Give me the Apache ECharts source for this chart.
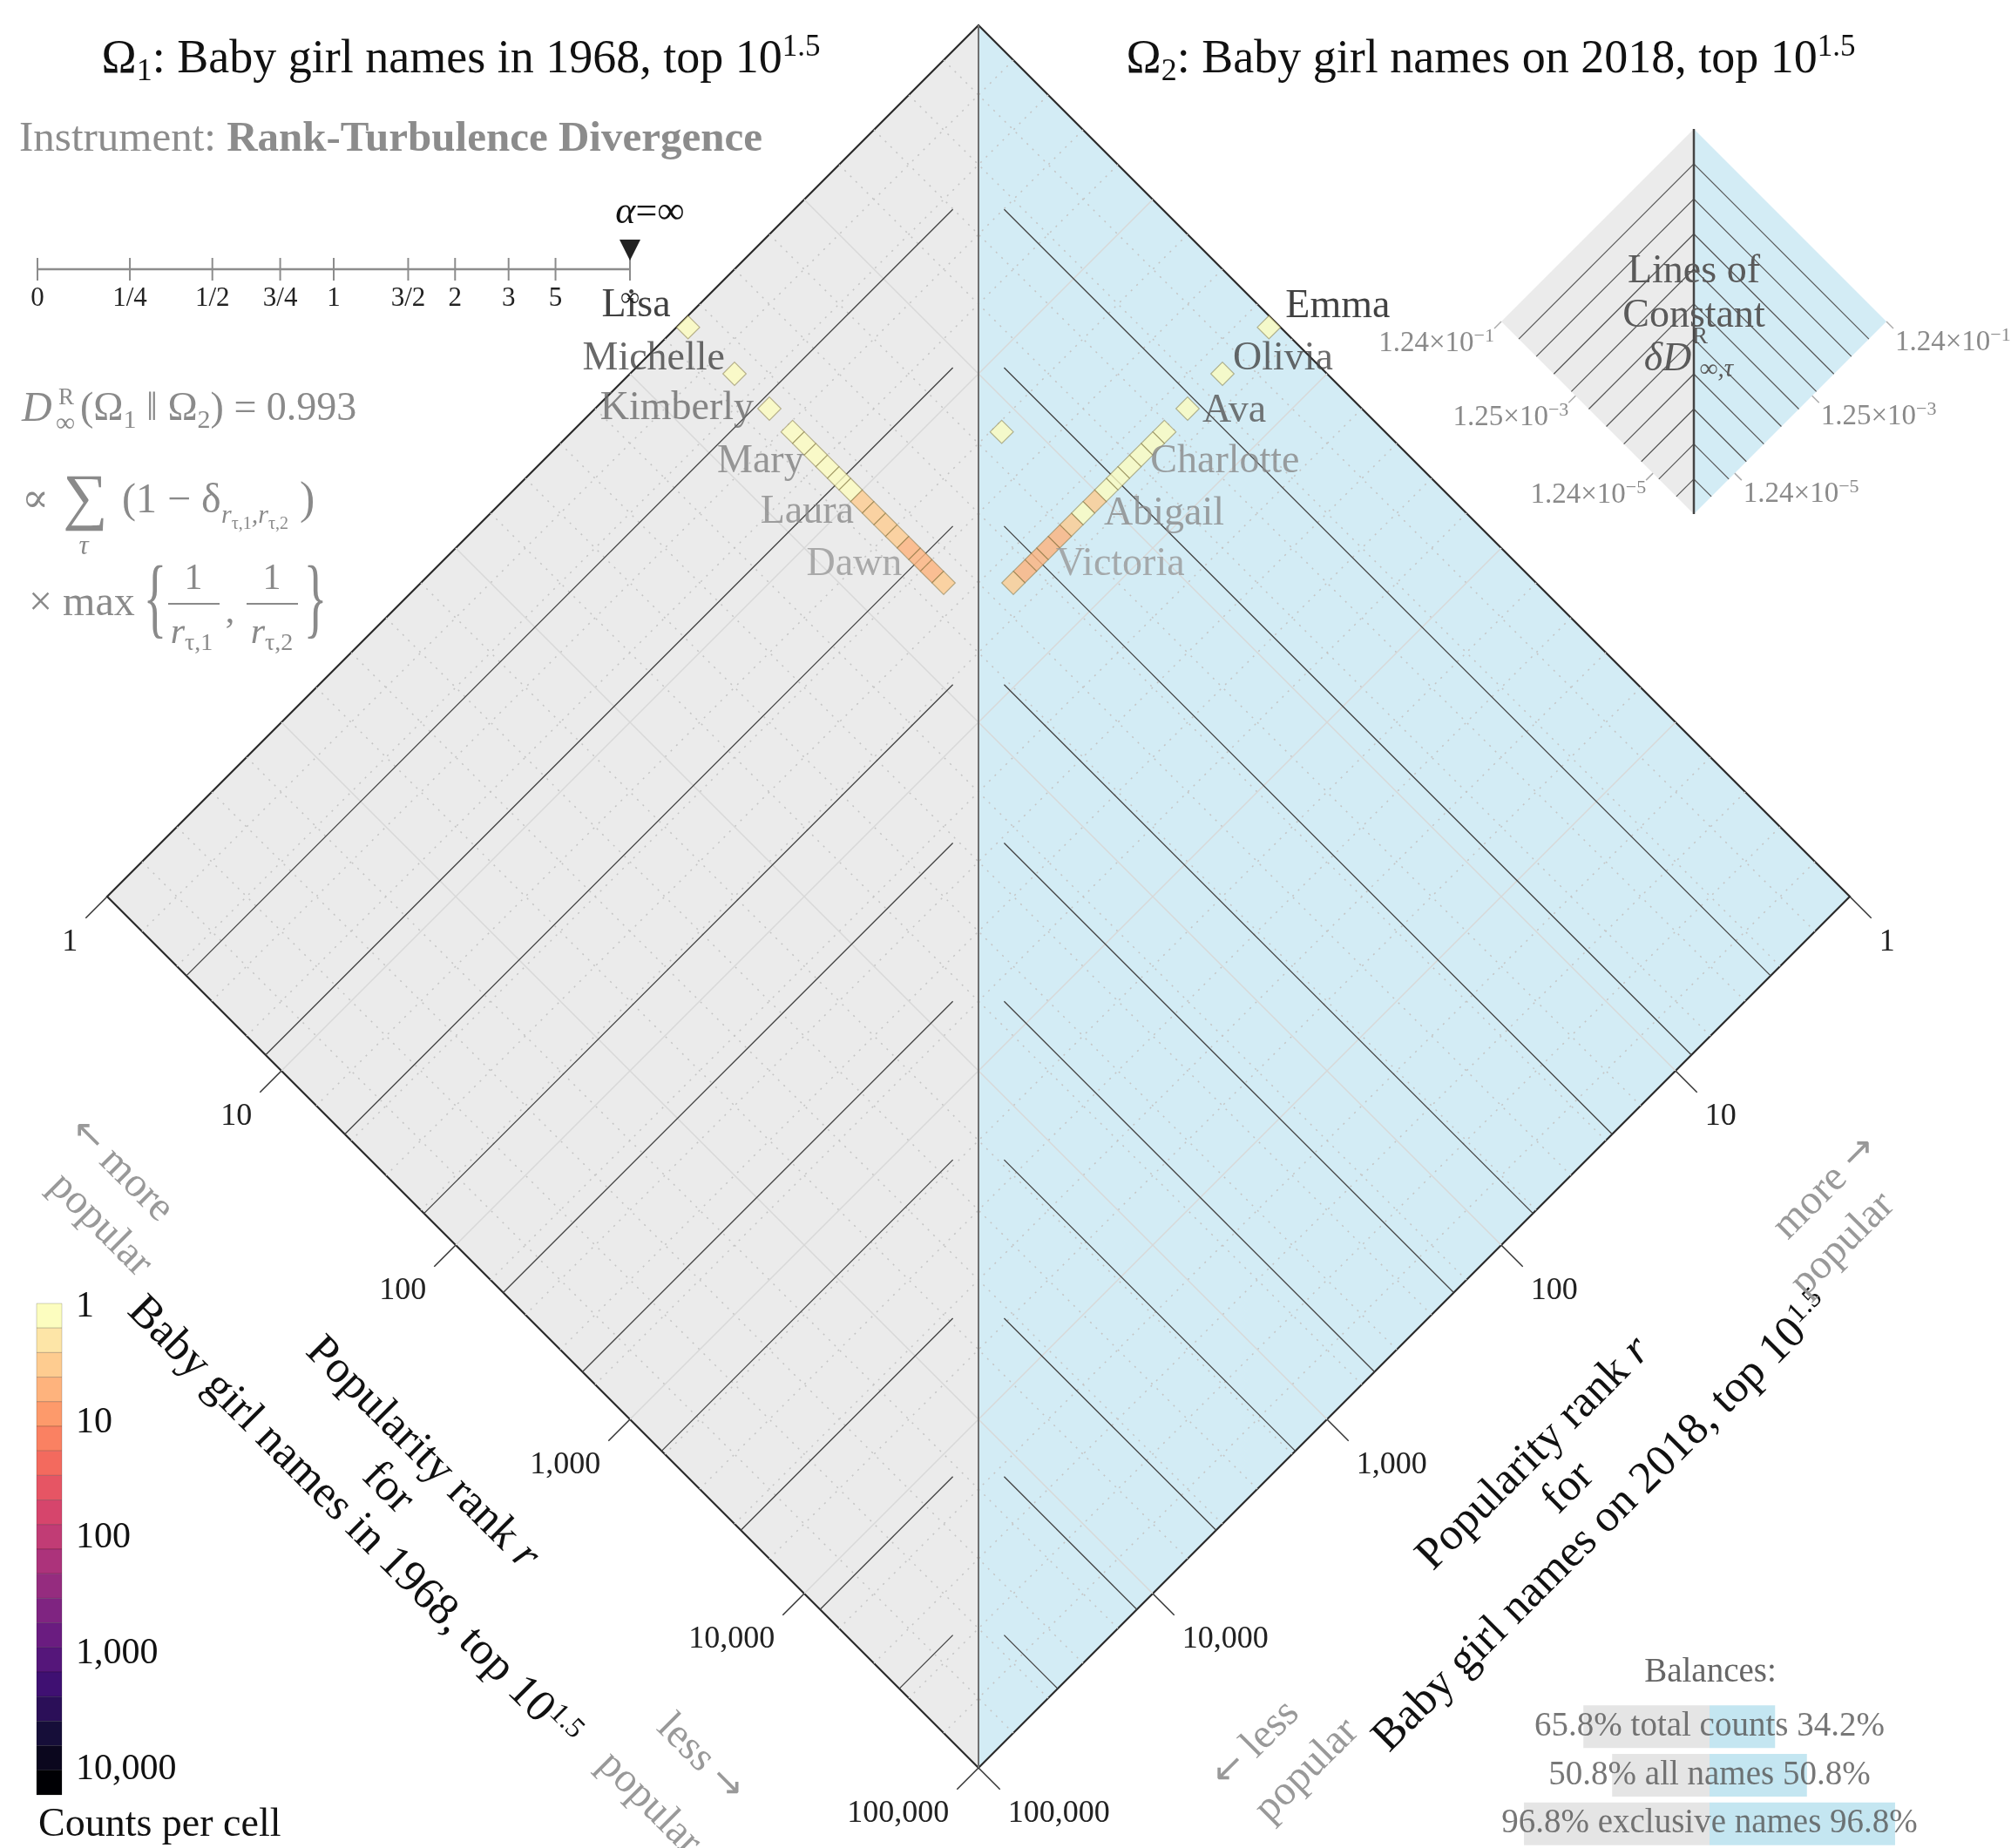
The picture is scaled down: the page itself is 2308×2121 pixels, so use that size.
<!DOCTYPE html>
<html>
<head>
<meta charset="utf-8">
<script src="https://cdn.jsdelivr.net/npm/echarts@6/dist/echarts.min.js"></script>
<style>
  html, body { margin: 0; padding: 0; background: #fff; }
  #main { width: 2308px; height: 2121px; }
</style>
</head>
<body>
<div id="main"></div>
<script>
const FONT = '"Liberation Serif", "DejaVu Serif", serif';

// log-rank bins: 15 per decade
const BINS_PER_DECADE = 15;
// names only in the 1968 list: bin of r1, names per cell, bin of the tied r2
const leftBinsR1 = [0, 4, 7, 9, 10, 11, 12, 13, 14, 15, 16, 17, 18, 19, 20, 21, 22];
const leftCounts = [1, 1, 1, 1, 1, 1, 1, 1, 1, 2, 2, 2, 2, 3, 4, 4, 2];
const leftBinR2 = 25;
// names only in the 2018 list
const rightBinsR2 = [0, 4, 7, 9, 10, 11, 12, 13, 14, 15, 16, 17, 18, 19, 20, 21, 22];
const rightCounts = [1, 1, 1, 1, 1, 1, 1, 1, 1, 2, 1, 2, 3, 3, 4, 4, 2];
const rightBinR1 = 25;
// name in both lists
const sharedBinsR1 = [18];
const sharedBinsR2 = [16];
const sharedCounts = [1];

// labelled names
const leftNames = ['Lisa', 'Michelle', 'Kimberly', 'Mary', 'Laura', 'Dawn'];
const leftNameBins = [0, 4, 7, 12, 16, 20];
const rightNames = ['Emma', 'Olivia', 'Ava', 'Charlotte', 'Abigail', 'Victoria'];
const rightNameBins = [0, 4, 7, 12, 16, 20];

// axes
const rankTicks = ['1', '10', '100', '1,000', '10,000', '100,000'];
const decadeLevels = [1, 2, 3, 4];
const dotLevels = [0.2, 0.4, 0.6, 0.8, 1.2, 1.4, 1.6, 1.8, 2.2, 2.4, 2.6, 2.8, 3.2, 3.4, 3.6, 3.8, 4.2, 4.4, 4.6, 4.8];
// lines of constant divergence (log10 rank)
const contourLevels = [0.4545, 0.9091, 1.3636, 1.8182, 2.2727, 2.7273, 3.1818, 3.6364, 4.0909, 4.5455];

// balances
const balanceNames = ['total counts', 'all names', 'exclusive names'];
const balanceLeft = [65.8, 50.8, 96.8];
const balanceRight = [34.2, 50.8, 96.8];

// colour bar
const colorbarTicks = ['1', '10', '100', '1,000', '10,000'];

// alpha instrument
const alphaValues = [0, 0.25, 0.5, 0.75, 1, 1.5, 2, 3, 5, Infinity];
const alphaLabels = ['0', '1/4', '1/2', '3/4', '1', '3/2', '2', '3', '5', '∞'];

// inset
const insetTickU = [0, 1.93, 3.94];
const insetTickBase = ['1.24', '1.25', '1.24'];
const insetTickExp = ['−1', '−3', '−5'];

// ---- helpers ----
const MAGMA = ['#000004', '#140e36', '#3b0f70', '#641a80', '#8c2981', '#b73779',
  '#de4968', '#f7705c', '#fe9f6d', '#fecf92', '#fcfdbf'];
function hex(c) { return [1, 3, 5].map(i => parseInt(c.substr(i, 2), 16)); }
function magma(t) {
  const f = Math.max(0, Math.min(1, t)) * 10;
  const i = Math.min(9, Math.floor(f));
  const a = hex(MAGMA[i]), b = hex(MAGMA[i + 1]), k = f - i;
  return 'rgb(' + a.map((v, j) => Math.round(v + (b[j] - v) * k)).join(',') + ')';
}
const SEG_COLORS = [];
for (let i = 0; i < 20; i++) SEG_COLORS.push(magma(1 - i / 19));
function countColor(c) {
  let i = Math.ceil(Math.log10(c) * 19 / 4 - 1e-9);
  return SEG_COLORS[Math.max(0, Math.min(19, i))];
}
function binCenter(b) { return (b + 0.5) / BINS_PER_DECADE; }
// (log r1, log r2) -> rotated frame
function toXY(u, v) { return [u - v, u + v]; }

// ---- cells ----
function cellItem(u, v, count, label) {
  const item = { value: toXY(u, v).concat([count]), itemStyle: { color: countColor(count) } };
  if (label) item.label = label;
  return item;
}
const leftLabelStyle = [
  { off: [-20, -25], color: '#111' }, { off: [-11, -17], color: '#444' },
  { off: [-18, 0], color: '#6a6a6a' }, { off: [-27, -6], color: '#808080' },
  { off: [-23, -1], color: '#8a8a8a' }, { off: [-21, 6], color: '#999' }
];
const rightLabelStyle = [
  { off: [19, -24], color: '#111' }, { off: [12, -17], color: '#444' },
  { off: [17, 3], color: '#555' }, { off: [24, -6], color: '#888' },
  { off: [24, 1], color: '#8a8a8a' }, { off: [22, 6], color: '#999' }
];
function nameLabel(name, st, align) {
  return {
    show: true, formatter: name, position: 'inside', align: align, verticalAlign: 'middle',
    offset: st.off, color: st.color, fontSize: 46, fontFamily: FONT
  };
}
const leftData = leftBinsR1.map((b, i) => {
  const j = leftNameBins.indexOf(b);
  return cellItem(binCenter(b), binCenter(leftBinR2), leftCounts[i],
    j >= 0 ? nameLabel(leftNames[j], leftLabelStyle[j], 'right') : null);
});
const rightData = rightBinsR2.map((b, i) => {
  const j = rightNameBins.indexOf(b);
  return cellItem(binCenter(rightBinR1), binCenter(b), rightCounts[i],
    j >= 0 ? nameLabel(rightNames[j], rightLabelStyle[j], 'left') : null);
});
const sharedData = sharedBinsR1.map((b, i) => cellItem(binCenter(b), binCenter(sharedBinsR2[i]), sharedCounts[i]));

// ---- line segments in the rotated frame ----
function fullLines(levels) {
  const segs = [];
  levels.forEach(c => {
    segs.push(toXY(c, 0).concat(toXY(c, 5)));
    segs.push(toXY(0, c).concat(toXY(5, c)));
  });
  return segs;
}
function contourLines(gap) {
  const segs = [];
  contourLevels.forEach(c => {
    segs.push(toXY(c, c + gap).concat(toXY(c, 5)));
    segs.push(toXY(c + gap, c).concat(toXY(5, c)));
  });
  return segs;
}
function lineSeries(axis, segs, style, z) {
  return {
    type: 'custom', xAxisIndex: axis, yAxisIndex: axis, silent: true, z: z,
    data: segs,
    renderItem(params, api) {
      const p1 = api.coord([api.value(0), api.value(1)]);
      const p2 = api.coord([api.value(2), api.value(3)]);
      return { type: 'line', shape: { x1: p1[0], y1: p1[1], x2: p2[0], y2: p2[1] }, style: style };
    }
  };
}
function diamondSeries(axis, blue, edge) {
  return {
    type: 'custom', xAxisIndex: axis, yAxisIndex: axis, silent: true, z: 1,
    data: [[0, 0]],
    renderItem(params, api) {
      const top = api.coord([0, 0]), left = api.coord([-5, 5]);
      const bottom = api.coord([0, 10]), right = api.coord([5, 5]);
      const ch = [
        { type: 'polygon', shape: { points: [top, left, bottom] }, style: { fill: '#ebebeb' } },
        { type: 'polygon', shape: { points: [top, right, bottom] }, style: { fill: blue } }
      ];
      if (edge) {
        ch.push({ type: 'polygon', shape: { points: [top, left, bottom, right] },
          style: { fill: null, stroke: '#2b2b2b', lineWidth: 2.2 }, z2: 20 });
      }
      return { type: 'group', children: ch };
    }
  };
}

// main axis ticks and labels
const tickSeries = {
  type: 'custom', xAxisIndex: 0, yAxisIndex: 0, silent: true, z: 5,
  data: rankTicks.map((t, i) => [i, 0]),
  renderItem(params, api) {
    const k = api.value(0);
    const a = api.coord(toXY(k, 5)), b = api.coord(toXY(5, k));
    const L = 24.7;
    const ts = { fontSize: 36, fontFamily: FONT, fill: '#222', verticalAlign: 'middle' };
    return {
      type: 'group', children: [
        { type: 'line', shape: { x1: a[0], y1: a[1], x2: a[0] - L, y2: a[1] + L }, style: { stroke: '#333', lineWidth: 1.5 } },
        { type: 'line', shape: { x1: b[0], y1: b[1], x2: b[0] + L, y2: b[1] + L }, style: { stroke: '#333', lineWidth: 1.5 } },
        { type: 'text', style: Object.assign({ text: rankTicks[k], x: a[0] - L - 9, y: a[1] + L + 28, align: 'right' }, ts) },
        { type: 'text', style: Object.assign({ text: rankTicks[k], x: b[0] + L + 9, y: b[1] + L + 28, align: 'left' }, ts) }
      ]
    };
  }
};

// inset ticks and labels
const insetTickSeries = {
  type: 'custom', xAxisIndex: 1, yAxisIndex: 1, silent: true, z: 5,
  data: insetTickU.map((t, i) => [i, 0]),
  renderItem(params, api) {
    const i = api.value(0), u = insetTickU[i];
    const a = api.coord(toXY(u, 5)), b = api.coord(toXY(5, u));
    const L = 8;
    const rich = { n: { fontSize: 33, fontFamily: FONT, fill: '#8a8a8a', lineHeight: 38 },
      e: { fontSize: 22, fontFamily: FONT, fill: '#8a8a8a', verticalAlign: 'top', lineHeight: 22 } };
    const txt = '{n|' + insetTickBase[i] + '×10}{e|' + insetTickExp[i] + '}';
    return {
      type: 'group', children: [
        { type: 'line', shape: { x1: a[0], y1: a[1], x2: a[0] - L, y2: a[1] + L }, style: { stroke: '#aaa', lineWidth: 1.5 } },
        { type: 'line', shape: { x1: b[0], y1: b[1], x2: b[0] + L, y2: b[1] + L }, style: { stroke: '#aaa', lineWidth: 1.5 } },
        { type: 'text', style: { text: txt, rich: rich, x: a[0] - 8, y: a[1] + 25, align: 'right', verticalAlign: 'middle' } },
        { type: 'text', style: { text: txt, rich: rich, x: b[0] + 10, y: b[1] + 24, align: 'left', verticalAlign: 'middle' } }
      ]
    };
  }
};

// colour bar segments
const colorbarSeries = {
  type: 'custom', xAxisIndex: 2, yAxisIndex: 2, silent: true,
  data: SEG_COLORS.map((c, i) => [i, 0]),
  renderItem(params, api) {
    const i = api.value(0);
    const y0 = -0.03 + i * 0.2125;
    const p0 = api.coord([0, y0]), p1 = api.coord([1, y0 + 0.2125]);
    return { type: 'rect', shape: { x: p0[0], y: p0[1], width: p1[0] - p0[0], height: p1[1] - p0[1] },
      style: { fill: SEG_COLORS[i], stroke: 'rgba(0,0,0,0.18)', lineWidth: 1 } };
  }
};

const cellStyle = { borderColor: 'rgba(110,95,40,0.55)', borderWidth: 1.2 };
function cellSeries(data) {
  return { type: 'scatter', xAxisIndex: 0, yAxisIndex: 0, symbol: 'diamond', symbolSize: 26.7,
    data: data, itemStyle: cellStyle, z: 10, silent: true };
}

// ---- graphic texts ----
const GREY = '#8a8a8a';
function T(x, y, text, size, color, extra) {
  const el = { type: 'text', x: x, y: y, z: 100, silent: true,
    style: { text: text, fontSize: size, fontFamily: FONT, fill: color, align: 'center', verticalAlign: 'middle' } };
  if (extra) {
    if (extra.style) Object.assign(el.style, extra.style);
    ['rotation', 'scaleX', 'scaleY'].forEach(k => { if (extra[k] !== undefined) el[k] = extra[k]; });
  }
  return el;
}
function titleRich(size, color) {
  return {
    n: { fontSize: size, fontFamily: FONT, fill: color, lineHeight: size + 10 },
    i: { fontSize: size, fontFamily: FONT, fill: color, fontStyle: 'italic', lineHeight: size + 10 },
    sub: { fontSize: Math.round(size * 0.66), fontFamily: FONT, fill: color, verticalAlign: 'bottom', lineHeight: Math.round(size * 0.66) },
    sup: { fontSize: Math.round(size * 0.64), fontFamily: FONT, fill: color, verticalAlign: 'top', lineHeight: Math.round(size * 0.64) }
  };
}

const graphics = [];
// titles
graphics.push(T(529, 69, '{n|Ω}{sub|1}{n|: Baby girl names in 1968, top 10}{sup|1.5}', 54, '#111',
  { style: { rich: titleRich(54, '#111') } }));
graphics.push(T(1711, 69, '{n|Ω}{sub|2}{n|: Baby girl names on 2018, top 10}{sup|1.5}', 54, '#111',
  { style: { rich: titleRich(54, '#111') } }));
graphics.push(T(22, 160, '{n|Instrument: }{b|Rank-Turbulence Divergence}', 49, GREY, {
  style: { align: 'left', rich: {
    n: { fontSize: 49, fontFamily: FONT, fill: '#8c8c8c' },
    b: { fontSize: 49, fontFamily: FONT, fill: '#8c8c8c', fontWeight: 'bold' } } }
}));

// alpha instrument
const AX0 = 43, AX1 = 723, AY = 309;
graphics.push({ type: 'line', z: 100, silent: true, shape: { x1: AX0, y1: AY, x2: AX1, y2: AY }, style: { stroke: '#8c8c8c', lineWidth: 2.5 } });
alphaValues.forEach((a, i) => {
  const x = AX0 + (AX1 - AX0) * (a === Infinity ? 1 : 2 / Math.PI * Math.atan(a));
  graphics.push({ type: 'line', z: 100, silent: true, shape: { x1: x, y1: AY - 13, x2: x, y2: AY + 13 }, style: { stroke: '#8c8c8c', lineWidth: 2 } });
  graphics.push(T(x, 343, alphaLabels[i], 31, '#222'));
});
graphics.push({ type: 'polygon', z: 100, silent: true, shape: { points: [[711, 275], [735, 275], [723, 299]] }, style: { fill: '#222' } });
graphics.push(T(746, 244, '{i|α}{n|=∞}', 44, '#111', { style: { rich: titleRich(44, '#111') } }));

// formula
const fr = titleRich(46, GREY);
fr.s2 = { fontSize: 20, fontFamily: FONT, fill: GREY, verticalAlign: 'bottom', lineHeight: 20 };
fr.si = { fontSize: 30, fontFamily: FONT, fill: GREY, fontStyle: 'italic', lineHeight: 40 };
graphics.push(T(25, 470, 'D', 48, GREY, { style: { align: 'left', fontStyle: 'italic' } }));
graphics.push(T(76, 457, 'R', 27, GREY));
graphics.push(T(75, 487, '∞', 31, GREY));
graphics.push(T(92, 470, '{n|(Ω}{sub|1}{n| ‖ Ω}{sub|2}{n|) = 0.993}', 46, GREY, { style: { align: 'left', rich: fr } }));
graphics.push(T(25, 575, '∝', 46, GREY, { style: { align: 'left' } }));
graphics.push(T(98, 575, '∑', 72, GREY));
graphics.push(T(96, 628, 'τ', 31, GREY, { style: { fontStyle: 'italic' } }));
graphics.push(T(140, 575, '(1 − δ', 48, GREY, { style: { align: 'left' } }));
graphics.push(T(254, 592, '{si|r}{s2|τ,1}{si|,r}{s2|τ,2}', 30, GREY, { style: { align: 'left', rich: fr } }));
graphics.push(T(344, 575, ')', 52, GREY, { style: { align: 'left' } }));
graphics.push(T(33, 693, '× max', 48, GREY, { style: { align: 'left' } }));
graphics.push(T(178, 693, '{', 56, GREY, { scaleY: 1.8 }));
graphics.push(T(222, 665, '1', 42, GREY));
graphics.push({ type: 'line', z: 100, silent: true, shape: { x1: 193, y1: 693, x2: 252, y2: 693 }, style: { stroke: GREY, lineWidth: 2 } });
graphics.push(T(220, 727, '{i|r}{sub|τ,1}', 42, GREY, { style: { rich: titleRich(42, GREY) } }));
graphics.push(T(264, 703, ',', 42, GREY));
graphics.push(T(312, 665, '1', 42, GREY));
graphics.push({ type: 'line', z: 100, silent: true, shape: { x1: 283, y1: 693, x2: 342, y2: 693 }, style: { stroke: GREY, lineWidth: 2 } });
graphics.push(T(312, 727, '{i|r}{sub|τ,2}', 42, GREY, { style: { rich: titleRich(42, GREY) } }));
graphics.push(T(362, 693, '}', 56, GREY, { scaleY: 1.8 }));

// inset title
graphics.push(T(1944, 312, 'Lines of', 46, '#5a5a5a'));
graphics.push(T(1944, 363, 'Constant', 46, '#5a5a5a'));
graphics.push(T(1914, 413, 'δD', 46, '#5a5a5a', { style: { fontStyle: 'italic' } }));
graphics.push(T(1951, 387, 'R', 27, '#5a5a5a'));
graphics.push(T(1970, 424, '∞,τ', 29, '#5a5a5a', { style: { fontStyle: 'italic' } }));

// axis titles
const axr = titleRich(52, '#111');
axr.n.lineHeight = 56; axr.i.lineHeight = 56;
graphics.push(T(445, 1708, '{n|Popularity rank }{i|r}\n{n|for}\n{n|Baby girl names in 1968, top 10}{sup|1.5}', 52, '#111',
  { rotation: -Math.PI / 4, style: { rich: axr } }));
graphics.push(T(1800, 1708, '{n|Popularity rank }{i|r}\n{n|for}\n{n|Baby girl names on 2018, top 10}{sup|1.5}', 52, '#111',
  { rotation: Math.PI / 4, style: { rich: axr } }));

// direction hints
const HINT = '#999';
const HS = 48;
const hintRich = {
  n: { fontSize: HS, fontFamily: FONT, fill: HINT },
  a: { fontSize: 44, fontFamily: '"DejaVu Sans", sans-serif', fill: HINT }
};
function hint(x, y, text, rot) {
  return T(x, y, text, HS, HINT, { rotation: rot, style: { rich: hintRich } });
}
graphics.push(hint(139, 1343, '{a|←}{n| more}', -Math.PI / 4));
graphics.push(hint(115, 1406, '{n|popular}', -Math.PI / 4));
graphics.push(hint(804, 2018, '{n|less }{a|→}', -Math.PI / 4));
graphics.push(hint(745, 2070, '{n|popular}', -Math.PI / 4));
graphics.push(hint(2095, 1363, '{n|more }{a|→}', Math.PI / 4));
graphics.push(hint(2115, 1428, '{n|popular}', Math.PI / 4));
graphics.push(hint(1441, 2002, '{a|←}{n| less}', Math.PI / 4));
graphics.push(hint(1500, 2032, '{n|popular}', Math.PI / 4));

graphics.push(T(44, 2095, 'Counts per cell', 46, '#111', { style: { align: 'left' } }));
graphics.push(T(1963, 1920, 'Balances:', 39, '#666'));

// ---- chart ----
const chart = echarts.init(document.getElementById('main'), null, { width: 2308, height: 2121 });
const option = {
  animation: false,
  backgroundColor: '#ffffff',
  textStyle: { fontFamily: FONT },
  grid: [
    { left: 123, top: 29, width: 2000, height: 2000 },
    { left: 1723, top: 148, width: 442, height: 442 },
    { left: 42, top: 1496, width: 29, height: 564 },
    { left: 1742, top: 1954, width: 440, height: 178.5 }
  ],
  xAxis: [
    { gridIndex: 0, type: 'value', min: -5, max: 5, show: false },
    { gridIndex: 1, type: 'value', min: -5, max: 5, show: false },
    { gridIndex: 2, type: 'value', min: 0, max: 1, show: false },
    { gridIndex: 3, type: 'value', min: -1, max: 1, show: false }
  ],
  yAxis: [
    { gridIndex: 0, type: 'value', min: 0, max: 10, inverse: true, show: false },
    { gridIndex: 1, type: 'value', min: 0, max: 10, inverse: true, show: false },
    {
      gridIndex: 2, type: 'value', min: -0.03, max: 4.22, inverse: true, position: 'right',
      axisLine: { show: false }, axisTick: { show: false }, splitLine: { show: false },
      axisLabel: {
        customValues: [0, 1, 2, 3, 4],
        formatter: v => colorbarTicks[Math.round(v)],
        fontSize: 42, color: '#111', margin: 16, fontFamily: FONT
      }
    },
    { gridIndex: 3, type: 'category', data: balanceNames, inverse: true, show: false }
  ],
  series: [
    diamondSeries(0, '#d3ecf5', true),
    lineSeries(0, fullLines(dotLevels), { stroke: '#c4c4c4', lineWidth: 1.5, lineDash: [2, 7] }, 2),
    lineSeries(0, fullLines(decadeLevels), { stroke: '#d8d8d8', lineWidth: 1.5 }, 2),
    lineSeries(0, contourLines(0.147), { stroke: '#444', lineWidth: 1.3 }, 3),
    lineSeries(0, [[0, 0, 0, 10]], { stroke: '#707070', lineWidth: 2 }, 4),
    tickSeries,
    cellSeries(leftData),
    cellSeries(rightData),
    cellSeries(sharedData),
    diamondSeries(1, '#d3ecf5', false),
    lineSeries(1, contourLines(0), { stroke: '#555', lineWidth: 1.2 }, 3),
    lineSeries(1, [[0, 0, 0, 10]], { stroke: '#444', lineWidth: 2.5 }, 4),
    insetTickSeries,
    colorbarSeries,
    { type: 'bar', xAxisIndex: 3, yAxisIndex: 3, silent: true, barWidth: 49, barGap: '-100%',
      data: balanceLeft.map(v => -v / 100), itemStyle: { color: '#e5e5e5' } },
    { type: 'bar', xAxisIndex: 3, yAxisIndex: 3, silent: true, barWidth: 49, barGap: '-100%',
      data: balanceRight.map(v => v / 100), itemStyle: { color: '#c4e6f1' } },
    { type: 'scatter', xAxisIndex: 3, yAxisIndex: 3, silent: true, symbolSize: 0, z: 5,
      data: balanceNames.map((n, i) => [0, i]),
      label: {
        show: true, position: 'inside', fontSize: 39, color: '#555', fontFamily: FONT,
        formatter: p => balanceLeft[p.dataIndex] + '% ' + balanceNames[p.dataIndex] + ' ' + balanceRight[p.dataIndex] + '%'
      } }
  ],
  graphic: graphics
};
chart.setOption(option);
</script>
</body>
</html>
